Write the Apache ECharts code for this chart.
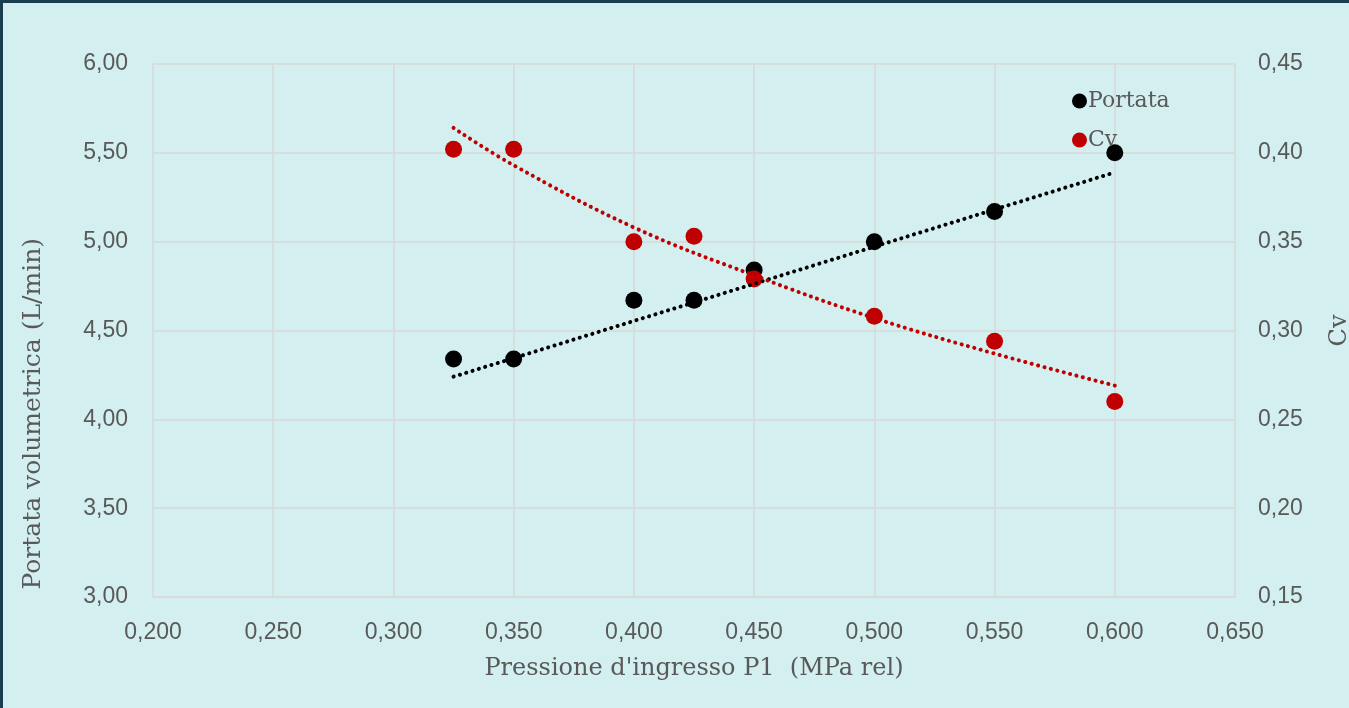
<!DOCTYPE html>
<html><head><meta charset="utf-8">
<script src="https://cdn.jsdelivr.net/npm/echarts@6/dist/echarts.min.js"></script>
<style>
html,body{margin:0;padding:0;background:#d3efef;}
#wrap{position:absolute;left:0;top:0;width:1349px;height:708px;box-sizing:border-box;border-top:3px solid #1b3d50;border-left:3px solid #1b3d50;background:#d3efef;}
#c{position:absolute;left:-3px;top:-3px;width:1349px;height:708px;}
</style></head>
<body><div id="wrap"><div id="c"></div></div>
<script>
const pressure = [0.325, 0.35, 0.40, 0.425, 0.45, 0.50, 0.55, 0.60];
const portata = [4.34, 4.34, 4.67, 4.67, 4.84, 5.00, 5.17, 5.50];
const cv = [0.402, 0.402, 0.350, 0.353, 0.329, 0.308, 0.294, 0.260];
const portataTrendX = [0.325, 0.60];
const portataTrend = [4.24, 5.39];
const cvTrendX = [0.325, 0.35, 0.40, 0.45, 0.50, 0.55, 0.60];
const cvTrend = [0.414, 0.393, 0.358, 0.331, 0.307, 0.287, 0.269];
const xTitle = "Pressione d'ingresso P1  (MPa rel)";
const yLeftTitle = "Portata volumetrica (L/min)";
const yRightTitle = "Cv";

const chart = echarts.init(document.getElementById('c'));
const zip = (a, b) => a.map((v, i) => [v, b[i]]);
const txt = '#595959';
const serif = '"DejaVu Serif", serif';
const sans = '"Liberation Sans", Arial, sans-serif';
const grid = '#d9d9d9';
const dotted = {width: 4, type: [0.1, 6.5], cap: 'round'};
chart.setOption({
  backgroundColor: 'transparent',
  animation: false,
  grid: {left: 153, right: 114, top: 64, bottom: 111, outerBoundsMode: 'none', containLabel: false},
  legend: {
    orient: 'vertical', left: 1067, top: 85, itemGap: 17,
    icon: 'circle', itemWidth: 15, itemHeight: 15,
    textStyle: {fontFamily: serif, fontSize: 22, color: txt, padding: [0,0,0,-4]},
    data: ['Portata', 'Cv']
  },
  graphic: [{
    type: 'text', left: 21, top: 238, rotation: Math.PI / 2,
    style: {text: yLeftTitle, fontFamily: serif, fontSize: 25, fill: txt}
  }],
  xAxis: {
    type: 'value', min: 0.2, max: 0.65, interval: 0.05,
    name: xTitle, nameLocation: 'middle', nameGap: 60,
    nameTextStyle: {fontFamily: serif, fontSize: 24, color: txt},
    axisLine: {show: true, lineStyle: {color: grid, width: 1.5}},
    axisTick: {show: false},
    axisLabel: {fontFamily: sans, fontSize: 23, color: txt, margin: 24,
      formatter: v => v.toFixed(3).replace('.', ',')},
    splitLine: {show: true, lineStyle: {color: grid, width: 1.5}}
  },
  yAxis: [{
    type: 'value', min: 3, max: 6, interval: 0.5,
    axisLine: {show: false}, axisTick: {show: false},
    axisLabel: {fontFamily: sans, fontSize: 23, color: txt, margin: 25,
      formatter: v => v.toFixed(2).replace('.', ',')},
    splitLine: {show: true, lineStyle: {color: grid, width: 1.5}}
  }, {
    type: 'value', min: 0.15, max: 0.45, interval: 0.05,
    name: yRightTitle, nameLocation: 'middle', nameGap: 93, nameRotate: 90,
    nameTextStyle: {fontFamily: serif, fontSize: 24, color: txt},
    axisLine: {show: false}, axisTick: {show: false},
    axisLabel: {fontFamily: sans, fontSize: 23, color: txt, margin: 23,
      formatter: v => v.toFixed(2).replace('.', ',')},
    splitLine: {show: false}
  }],
  series: [
    {name: 'Portata', type: 'scatter', yAxisIndex: 0, data: zip(pressure, portata),
     symbolSize: 17, itemStyle: {color: '#000000', opacity: 1}, z: 3},
    {name: 'Cv', type: 'scatter', yAxisIndex: 1, data: zip(pressure, cv),
     symbolSize: 17, itemStyle: {color: '#c00000', opacity: 1}, z: 4},
    {name: 'trendP', type: 'line', yAxisIndex: 0, data: zip(portataTrendX, portataTrend),
     showSymbol: false, symbol: 'none', lineStyle: Object.assign({color: '#000000'}, dotted), z: 5, silent: true},
    {name: 'trendCv', type: 'line', yAxisIndex: 1, data: zip(cvTrendX, cvTrend), smooth: 0.4,
     showSymbol: false, symbol: 'none', lineStyle: Object.assign({color: '#c00000'}, dotted), z: 5, silent: true}
  ]
});
</script></body></html>
